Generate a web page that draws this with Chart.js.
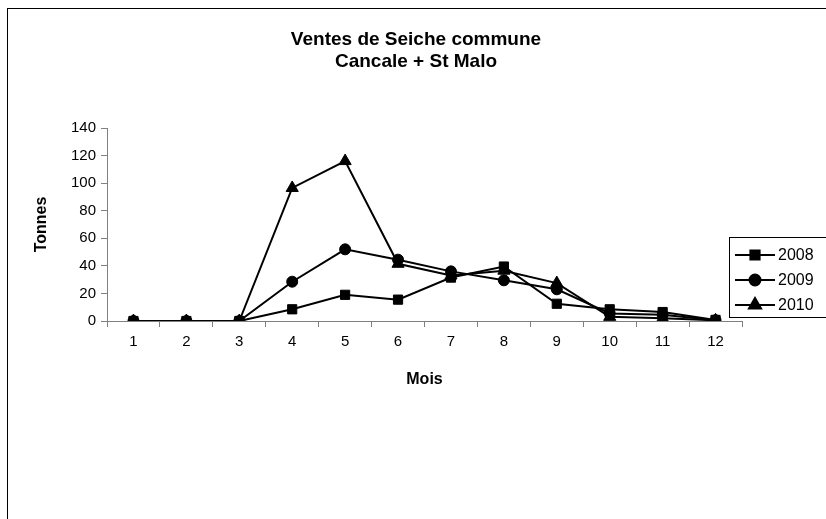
<!DOCTYPE html>
<html>
<head>
<meta charset="utf-8">
<script src="https://cdn.jsdelivr.net/npm/chart.js@4/dist/chart.umd.min.js"></script>
<style>
  html, body { margin: 0; padding: 0; background: #fff; }
  #wrap { width: 826px; height: 519px; }
</style>
</head>
<body>
<div id="wrap"><canvas id="c" width="826" height="519"></canvas></div>
<script>
const months = ['1','2','3','4','5','6','7','8','9','10','11','12'];
const seriesNames = ['2008', '2009', '2010'];
const v2008 = [0, 0, 0, 8.5, 19, 15.5, 31.5, 39.5, 12.5, 8.5, 6.5, 0.8];
const v2009 = [0, 0, 0, 28.5, 52, 44.5, 36, 29.5, 23, 5.5, 4.5, 0.5];
const v2010 = [0, 0, 0, 96.5, 116, 41.5, 33, 36.5, 27.5, 3, 2, 0.5];
const yTicks = [0, 20, 40, 60, 80, 100, 120, 140];
const titleLines = ['Ventes de Seiche commune', 'Cancale + St Malo'];
const xTitle = 'Mois';
const yTitle = 'Tonnes';

const FONT = "'Liberation Sans', Arial, sans-serif";
const styles = [
  { pointStyle: 'rect', r: 6.5 },
  { pointStyle: 'circle', r: 5.5 },
  { pointStyle: 'triangle', r: 7 }
];
const values = [v2008, v2009, v2010];

const datasets = seriesNames.map((n, i) => ({
  label: n,
  data: values[i],
  borderColor: '#000',
  backgroundColor: '#000',
  borderWidth: 2,
  pointStyle: styles[i].pointStyle,
  pointRadius: styles[i].r,
  pointBorderWidth: 1,
  pointBackgroundColor: '#000',
  pointBorderColor: '#000',
  tension: 0,
  fill: false
}));

const frame = {
  id: 'frame',
  beforeDraw(chart) {
    const ctx = chart.ctx;
    ctx.save();
    ctx.fillStyle = '#fff';
    ctx.fillRect(0, 0, chart.width, chart.height);
    ctx.strokeStyle = '#000';
    ctx.lineWidth = 1;
    ctx.strokeRect(7.5, 8.5, 840, 540);
    ctx.restore();
  },
  afterDraw(chart) {
    const ctx = chart.ctx;
    ctx.save();
    // title
    ctx.fillStyle = '#000';
    ctx.font = 'bold 19px ' + FONT;
    ctx.textAlign = 'center';
    ctx.textBaseline = 'middle';
    ctx.fillText(titleLines[0], 416, 40);
    ctx.fillText(titleLines[1], 416, 62);
    // legend box
    const bx = 729.5, by = 237.5, bw = 110, bh = 80;
    ctx.fillStyle = '#fff';
    ctx.fillRect(bx, by, bw, bh);
    ctx.strokeStyle = '#000';
    ctx.lineWidth = 1;
    ctx.strokeRect(bx, by, bw, bh);
    const rows = [255, 280, 305];
    chart.data.datasets.forEach((ds, i) => {
      const y = rows[i];
      ctx.strokeStyle = '#000';
      ctx.lineWidth = 2;
      ctx.beginPath();
      ctx.moveTo(735, y);
      ctx.lineTo(775, y);
      ctx.stroke();
      ctx.fillStyle = '#000';
      Chart.helpers.drawPoint(ctx, {
        pointStyle: ds.pointStyle, radius: ds.pointRadius, borderWidth: 1
      }, 755, y);
      ctx.fillStyle = '#000';
      ctx.font = '16px ' + FONT;
      ctx.textBaseline = 'middle';
      ctx.textAlign = 'left';
      ctx.fillText(ds.label, 778, y + 1);
    });
    ctx.restore();
  }
};

new Chart(document.getElementById('c'), {
  type: 'line',
  data: { labels: months, datasets },
  options: {
    responsive: false,
    animation: false,
    layout: { padding: { top: 128, left: 10, right: 84, bottom: 118 } },
    plugins: {
      legend: { display: false },
      tooltip: { enabled: false },
      title: { display: false }
    },
    scales: {
      x: {
        type: 'category',
        offset: true,
        grid: { offset: true, drawOnChartArea: false, drawTicks: true, tickLength: 6, color: '#808080' },
        border: { color: '#808080', width: 1 },
        ticks: { color: '#000', font: { family: FONT, size: 15 }, padding: 6, maxRotation: 0, autoSkip: false },
        title: { display: true, text: xTitle, color: '#000', font: { family: FONT, size: 16, weight: 'bold', lineHeight: 1.2 }, padding: { top: 11.4, bottom: 11.4 } },
        afterFit(s) { s.height = 80; }
      },
      y: {
        min: 0, max: 140,
        afterBuildTicks(s) { s.ticks = yTicks.map(v => ({ value: v })); },
        grid: { drawOnChartArea: false, drawTicks: true, tickLength: 6, color: '#808080' },
        border: { color: '#808080', width: 1 },
        ticks: { color: '#000', font: { family: FONT, size: 15 }, padding: 5 },
        title: { display: true, text: yTitle, color: '#000', font: { family: FONT, size: 16, weight: 'bold', lineHeight: 1.2 }, padding: { top: 22.4, bottom: 22.4 } },
        afterFit(s) { s.width = 97; }
      }
    }
  },
  plugins: [frame]
});
</script>
</body>
</html>
